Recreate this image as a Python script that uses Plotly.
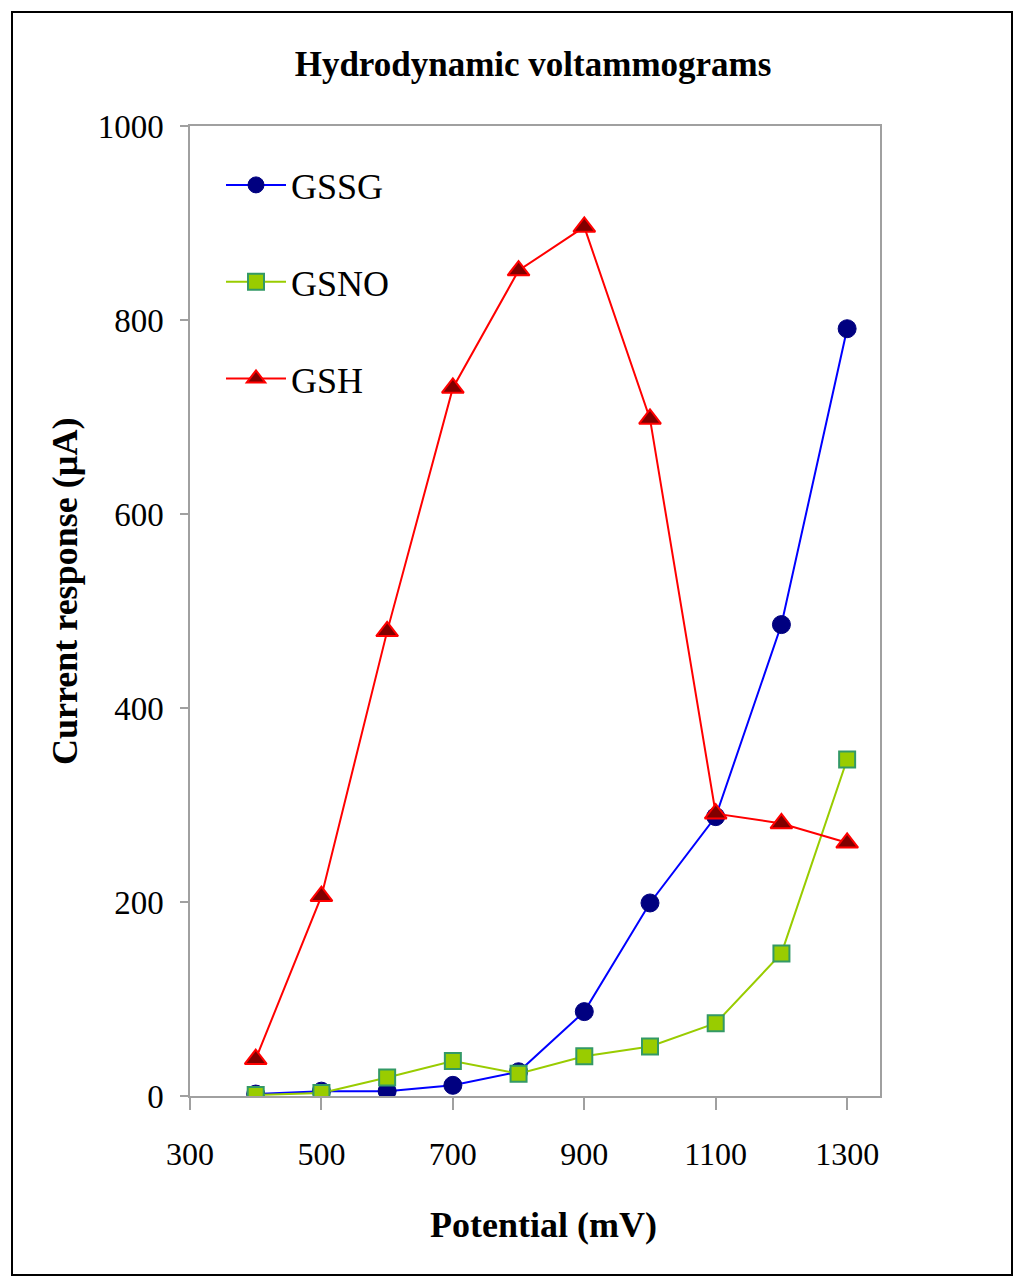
import plotly.graph_objects as go

potential = [400, 500, 600, 700, 800, 900, 1000, 1100, 1200, 1300]
gssg = [2, 5, 5, 11, 25, 87, 199, 288, 486, 791]
gsno = [1, 3, 19, 36, 23, 41, 51, 75, 147, 347]
gsh = [38, 206, 479, 730, 851, 896, 698, 291, 281, 261]

fig = go.Figure()
fig.add_trace(go.Scatter(
    x=potential, y=gssg, mode="lines+markers", name="GSSG", legendgroup="a",
    line=dict(color="#0000FF", width=2),
    marker=dict(symbol="circle", size=18, color="#000080", line=dict(color="#000080", width=1))))
fig.add_trace(go.Scatter(
    x=potential, y=gsno, mode="lines+markers", name="GSNO", legendgroup="b",
    line=dict(color="#99CC00", width=2),
    marker=dict(symbol="square", size=16, color="#99CC00", line=dict(color="#339966", width=2))))
fig.add_trace(go.Scatter(
    x=potential, y=gsh, mode="lines+markers", name="GSH", legendgroup="c",
    line=dict(color="#FF0000", width=2),
    marker=dict(symbol="triangle-up", size=19, color="#800000", line=dict(color="#FF0000", width=2))))

OFF = 8  # page body margin
L, R, T, B = 190 - OFF, 144 + OFF, 126 - OFF, 191 + OFF
W, H = 1024 - L - R, 1287 - T - B


def px(X):
    return (X - OFF - L) / W


def py(Y):
    return (1287 - B - (Y - OFF)) / H


fig.update_layout(
    width=1024, height=1287,
    margin=dict(l=L, r=R, t=T, b=B),
    paper_bgcolor="white", plot_bgcolor="white",
    font=dict(family="Liberation Serif", size=32, color="black"),
    title=dict(text="<b>Hydrodynamic voltammograms</b>", x=px(533), xref="paper",
               xanchor="center", y=1 - (64 - OFF) / 1287, yanchor="middle",
               font=dict(family="Liberation Serif", size=35, color="black")),
    showlegend=True,
    legend=dict(x=px(221), y=py(155), xanchor="left", yanchor="top",
                bgcolor="rgba(0,0,0,0)", font=dict(size=36, family="Liberation Serif"),
                traceorder="grouped", tracegroupgap=47, itemwidth=60),
    xaxis=dict(range=[300, 1350], tick0=300, dtick=200, showgrid=False, zeroline=False,
               showline=True, linecolor="#A0A0A0", linewidth=1.5, mirror=True,
               ticks="outside", ticklen=12, tickcolor="#A0A0A0", tickwidth=1.5,
               ticklabelstandoff=17, tickfont=dict(size=32)),
    yaxis=dict(range=[0, 1000], dtick=200, showgrid=False, zeroline=False,
               showline=True, linecolor="#A0A0A0", linewidth=1.5, mirror=True,
               ticks="outside", ticklen=8, tickcolor="#A0A0A0", tickwidth=1.5,
               ticklabelstandoff=10, tickfont=dict(size=33)),
    annotations=[
        dict(text="<b>Potential (mV)</b>", xref="paper", yref="paper",
             x=px(543), y=py(1225), xanchor="center", yanchor="middle", showarrow=False,
             font=dict(size=36, family="Liberation Serif")),
        dict(text="<b>Current response (µA)</b>", xref="paper", yref="paper",
             x=px(65), y=py(592), xanchor="center", yanchor="middle", showarrow=False,
             textangle=-90, font=dict(size=36, family="Liberation Serif")),
    ],
    shapes=[dict(type="rect", xref="paper", yref="paper",
                 x0=px(12), x1=px(1012), y0=py(1275), y1=py(12),
                 line=dict(color="black", width=2), fillcolor="rgba(0,0,0,0)", layer="below")],
)

fig.write_html("out.html")
